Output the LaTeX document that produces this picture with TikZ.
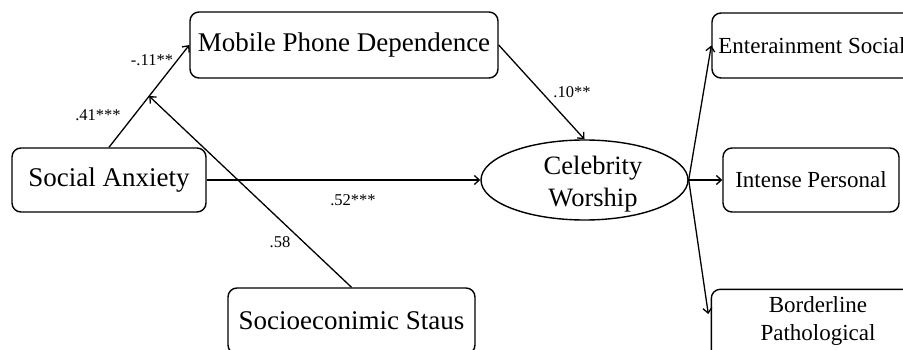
\documentclass[tikz,border=0pt]{standalone}
\usepackage{fontspec}
\setmainfont{Liberation Serif}
\usetikzlibrary{arrows.meta,calc,shapes.geometric}
\tikzset{
  box/.style={draw,line width=1.4pt,rounded corners=9pt,inner sep=0pt,align=center,
    font=\fontsize{27}{32}\selectfont},
  sbox/.style={box,font=\fontsize{23}{28}\selectfont},
  oval/.style={draw,line width=1.4pt,ellipse,inner sep=0pt},
  arr/.style={line width=1.3pt,-{Straight Barb[length=5pt,width=9pt]}},
  lab/.style={inner sep=0pt,font=\fontsize{16.5}{18}\selectfont}
}
\begin{document}
\begin{tikzpicture}[x=1pt,y=-1pt]
\clip (0,0) rectangle (903,350);
\fill[white] (0,0) rectangle (903,350);
\node[box,minimum width=308pt,minimum height=66pt] (MPD) at (344,45) {Mobile Phone Dependence};
\node[box,minimum width=194pt,minimum height=64pt] (SA) at (109,180) {Social Anxiety};
\node[box,minimum width=247pt,minimum height=66pt] (SES) at (351.5,321) {Socioeconimic Staus};
\node[oval,minimum width=207pt,minimum height=80pt] (CW) at (584.5,180) {};
\node[align=center,inner sep=0pt,font=\fontsize{26.5}{32}\selectfont] (CWt) at (593,184) {Celebrity\\Worship};
\node[sbox,minimum width=212pt,minimum height=65pt] (ENT) at (818,45.5) {\hspace*{-12pt}Enterainment Social};
\node[sbox,minimum width=176pt,minimum height=64pt] (INT) at (811,180) {Intense Personal};
\node[box,draw=none,minimum width=212pt,minimum height=70pt] (BPb) at (818,325) {};
\draw[line width=1.4pt,rounded corners=9pt] (BPb.south west) -- (BPb.north west) -- (BPb.north east) -- (BPb.south east);
\node[align=center,inner sep=0pt,font=\fontsize{23}{28}\selectfont] (BP) at (818,321) {Borderline\\Pathological};
\coordinate (mid) at ($(SA.north)!0.5!(MPD.west)$);
\draw[arr] (SA.north) -- (MPD.west);
\draw[arr] (SES.north) -- (mid);
\draw[arr] (SA.east) -- (CW.west);
\draw[arr] (MPD.east) -- (CW.north);
\draw[arr] (CW.east) -- (ENT.west);
\draw[arr] (CW.east) -- (INT.west);
\draw[arr] (CW.east) -- ([yshift=11pt,xshift=-3pt]BPb.west);
\node[lab] (l1) at (152,60) {-.11**};
\node[lab] (l2) at (98,115) {.41***};
\node[lab] (l3) at (353,200) {.52***};
\node[lab] (l4) at (280,242) {.58};
\node[lab] (l5) at (572,92) {.10**};
\end{tikzpicture}
\end{document}
